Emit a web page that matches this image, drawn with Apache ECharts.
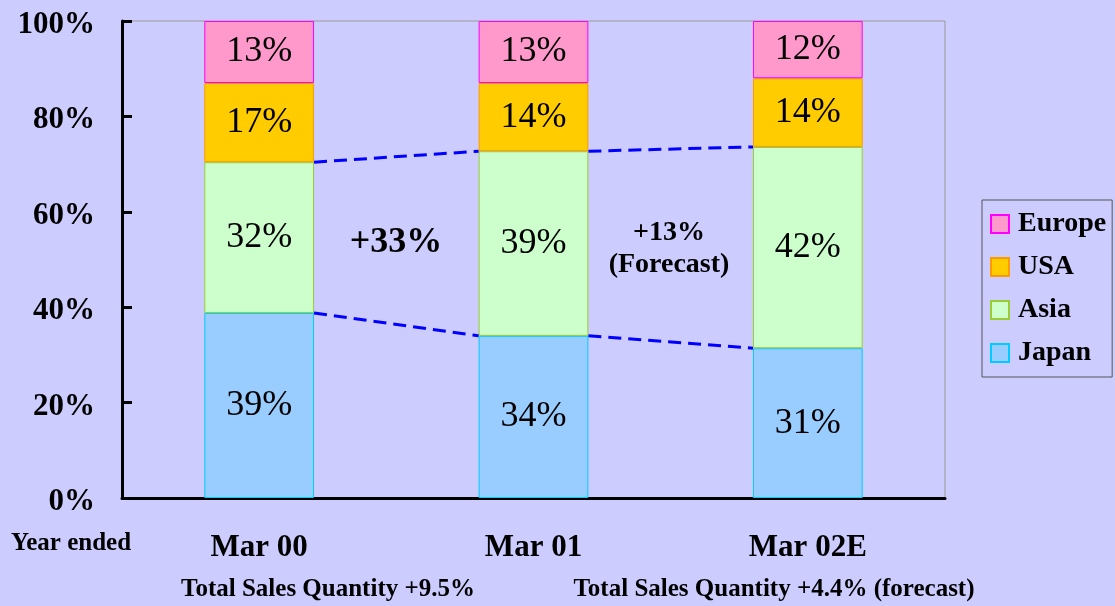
<!DOCTYPE html>
<html>
<head>
<meta charset="utf-8">
<script src="https://cdn.jsdelivr.net/npm/echarts@6/dist/echarts.min.js"></script>
<style>
  html, body { margin: 0; padding: 0; background: #CCCCFF; }
</style>
</head>
<body>
<div id="main" style="width: 1115px; height: 606px"></div>
<script>
// shares by region (%)
const categories = ['Mar 00', 'Mar 01', 'Mar 02E'];
const japan = [38.8, 34.0, 31.4];
const asia = [31.6, 38.7, 42.2];
const usa = [16.6, 14.3, 14.4];
const europe = [13.0, 13.0, 12.0];
const growthNotes = ['+33%', '+13%\n(Forecast)'];
const salesNotes = ['Total Sales Quantity +9.5%', 'Total Sales Quantity +4.4% (forecast)'];

const serif = '"Liberation Serif", "Times New Roman", serif';
const halfBar = 0.2; // barWidth 40% of a category

// dashed connectors between the Japan tops and the Asia tops
const connectors = [];
for (let i = 0; i < categories.length - 1; i++) {
  connectors.push({ coords: [[i + 0.5 + halfBar, japan[i]], [i + 1.5 - halfBar, japan[i + 1]]] });
  connectors.push({ coords: [[i + 0.5 + halfBar, japan[i] + asia[i]], [i + 1.5 - halfBar, japan[i + 1] + asia[i + 1]]] });
}

const valueLabel = {
  show: true,
  position: 'inside',
  fontFamily: serif,
  fontSize: 36,
  color: '#000',
  formatter: p => Math.round(p.value) + '%'
};

const barSeries = (name, data, fill, border) => ({
  name: name,
  type: 'bar',
  stack: 'share',
  barWidth: '40%',
  data: data,
  itemStyle: { color: fill, borderColor: border, borderWidth: 1 },
  label: valueLabel
});

const chart = echarts.init(document.getElementById('main'));
chart.setOption({
  backgroundColor: '#CCCCFF',
  animation: false,
  grid: {
    left: 122, right: 170, top: 21, bottom: 108,
    show: true, borderColor: '#999999', borderWidth: 1, backgroundColor: 'transparent'
  },
  legend: {
    orient: 'vertical',
    left: 982, top: 200,
    data: ['Europe', 'USA', 'Asia', 'Japan'],
    icon: 'rect',
    itemWidth: 18, itemHeight: 18, itemGap: 15,
    padding: [10, 6, 10, 8],
    borderColor: '#555', borderWidth: 1,
    textStyle: { fontFamily: serif, fontWeight: 'bold', fontSize: 28, color: '#000', lineHeight: 26, padding: [0, 0, 0, 4] }
  },
  xAxis: [
    {
      type: 'category',
      data: categories,
      axisLine: { lineStyle: { color: '#000', width: 3 } },
      axisTick: { inside: true, length: 8, lineStyle: { color: '#000', width: 3 } },
      axisLabel: { fontFamily: serif, fontWeight: 'bold', fontSize: 31, color: '#000', margin: 34 }
    },
    { type: 'value', min: 0, max: 3, show: false }
  ],
  yAxis: {
    type: 'value',
    min: 0, max: 100, interval: 20,
    splitLine: { show: false },
    axisLine: { show: true, lineStyle: { color: '#000', width: 3 } },
    axisTick: { show: true, inside: true, length: 10, lineStyle: { color: '#000', width: 3 } },
    axisLabel: {
      fontFamily: serif, fontWeight: 'bold', fontSize: 31, color: '#000', margin: 27,
      formatter: v => '{p|' + v + '%}',
      rich: { p: { fontFamily: serif, fontWeight: 'bold', fontSize: 31, color: '#000', padding: [8, 0, 0, 0] } }
    }
  },
  series: [
    barSeries('Japan', japan, '#99CCFF', '#00CCFF'),
    barSeries('Asia', asia, '#CCFFCC', '#99CC33'),
    barSeries('USA', usa, '#FFCC00', '#FF9900'),
    barSeries('Europe', europe, '#FF99CC', '#FF00FF'),
    {
      name: 'trend',
      type: 'lines',
      coordinateSystem: 'cartesian2d',
      xAxisIndex: 1,
      yAxisIndex: 0,
      data: connectors,
      lineStyle: { color: '#0000FF', width: 3, type: [13, 7], opacity: 1 },
      silent: true,
      z: 5
    }
  ],
  graphic: [
    { type: 'text', x: 396, y: 243, style: { text: growthNotes[0], font: 'bold 36px ' + serif, fill: '#000', align: 'center', verticalAlign: 'middle' } },
    { type: 'text', x: 669, y: 249, style: { text: growthNotes[1], font: 'bold 28px ' + serif, fill: '#000', align: 'center', verticalAlign: 'middle', lineHeight: 32 } },
    { type: 'text', x: 71, y: 544, style: { text: 'Year ended', font: 'bold 25px ' + serif, fill: '#000', align: 'center', verticalAlign: 'middle' } },
    { type: 'text', x: 328, y: 590, style: { text: salesNotes[0], font: 'bold 25px ' + serif, fill: '#000', align: 'center', verticalAlign: 'middle' } },
    { type: 'text', x: 774, y: 590, style: { text: salesNotes[1], font: 'bold 25px ' + serif, fill: '#000', align: 'center', verticalAlign: 'middle' } }
  ]
});
</script>
</body>
</html>
